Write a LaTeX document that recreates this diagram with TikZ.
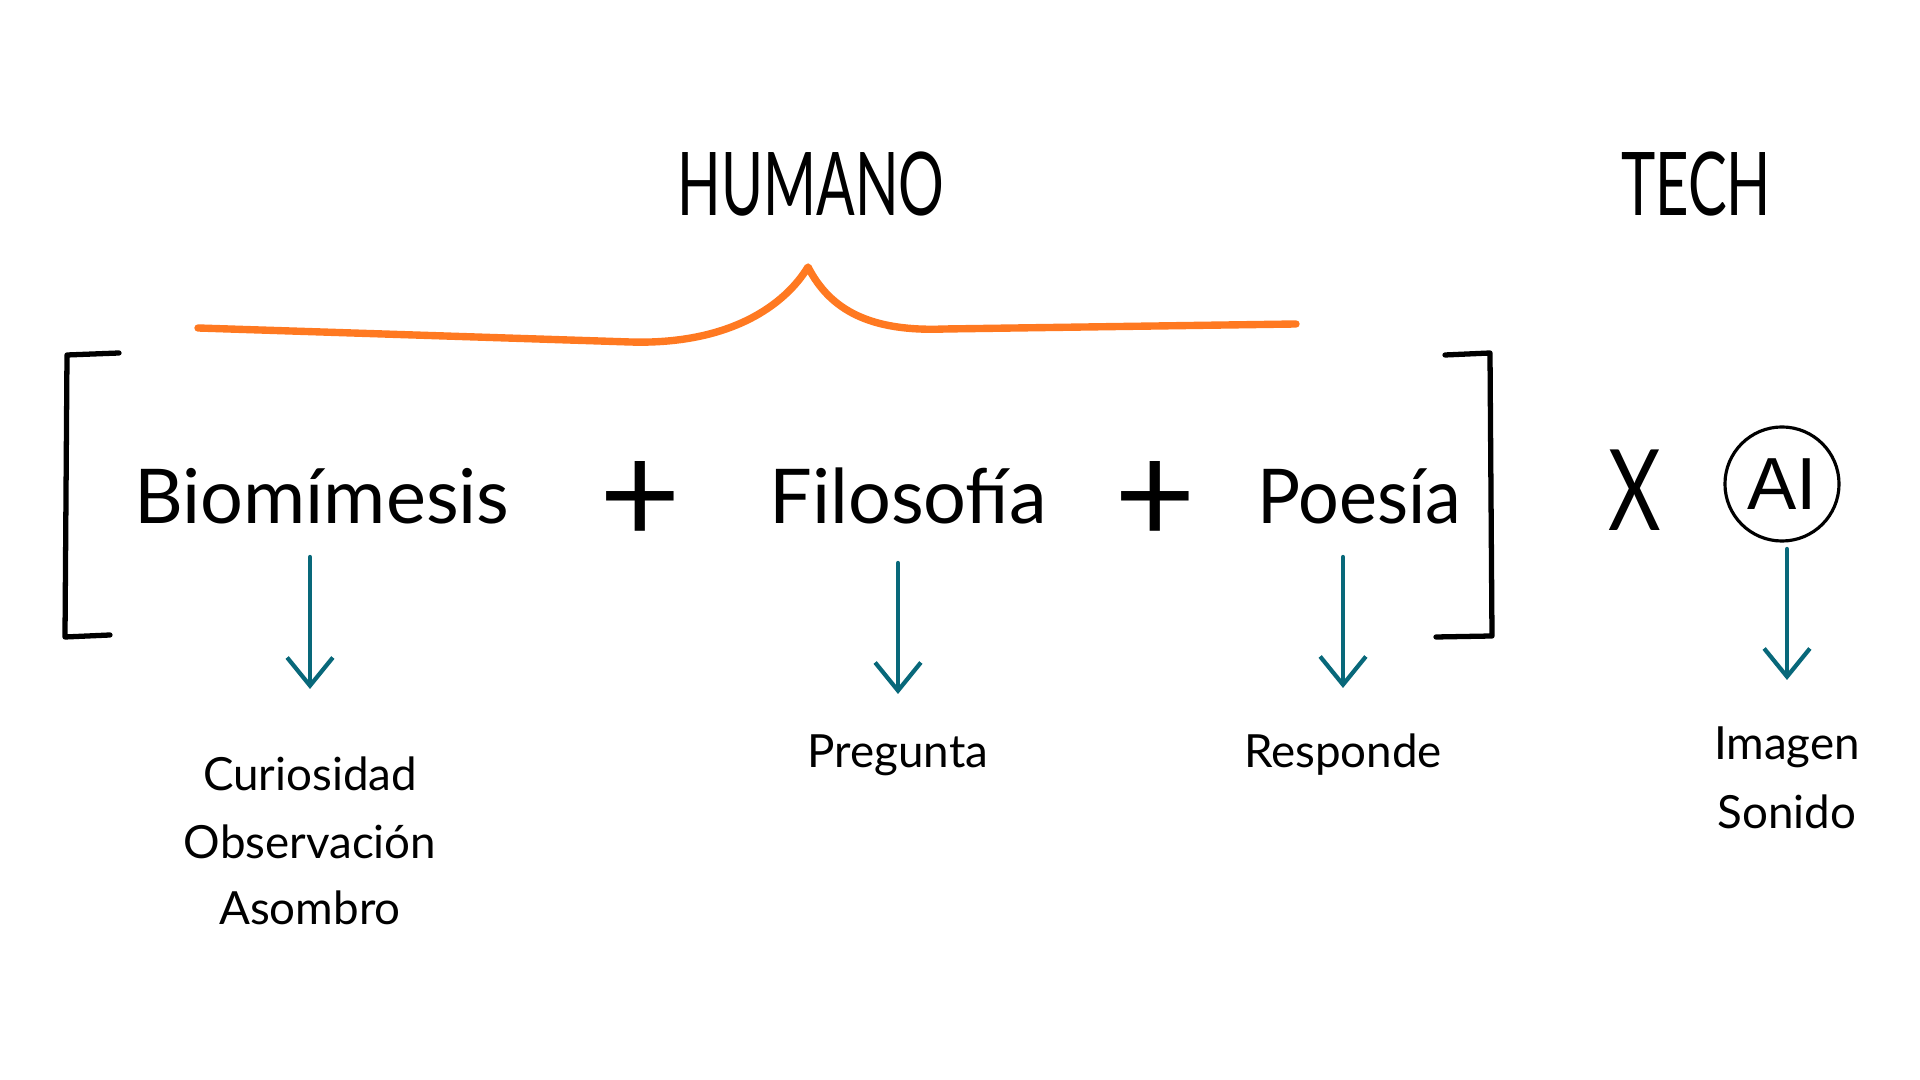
\documentclass[tikz,border=0pt]{standalone}
\usepackage{fontspec}
\setmainfont{Lato}
\newfontfamily\aifont{Liberation Sans}
\usetikzlibrary{arrows.meta}
\definecolor{braceorange}{RGB}{255,121,33}
\definecolor{arrteal}{RGB}{8,104,122}
\tikzset{
  word/.style={font=\fontsize{21.5}{26}\selectfont, inner sep=0pt},
  label/.style={font=\fontsize{13}{16}\selectfont, inner sep=0pt},
  title/.style={font=\fontsize{25}{30}\selectfont, inner sep=0pt},
  plussign/.style={font=\fontsize{40}{44}\selectfont, inner sep=0pt},
  arr/.style={draw=arrteal, line width=1.2pt, line cap=round, -{Straight Barb[length=8pt,width=13pt,line width=1.2pt]}},
  bracket/.style={draw=black, line width=1.5pt, line cap=round, line join=round},
}
\begin{document}
\begin{tikzpicture}[x=0.01cm, y=-0.01cm]
\useasboundingbox[fill=white] (0,0) rectangle (1920,1080);
% titles
\node[title] (humano) at (811,184) {\scalebox{0.65}[1]{HUMANO}};
\node[title] (tech) at (1696,184) {\scalebox{0.66}[1]{TECH}};
% brace
\draw[braceorange, line width=2.1pt, line cap=round, line join=round]
  (198,328) -- (630,342) .. controls (730,345) and (785,305) .. (808,267)
  .. controls (830,310) and (870,332) .. (945,329) -- (1296,324);
% brackets
\draw[bracket] (119,353) -- (67,355) -- (65,637) -- (110,635);
\draw[bracket] (1445,355) -- (1490,353) -- (1492,636) -- (1436,637);
% words
\node[word] (bio) at (322,496) {Biomímesis};
\node[plussign] (p1) at (640,503) {+};
\node[word] (filo) at (908,496) {Filosofía};
\node[plussign] (p2) at (1155,503) {+};
\node[word] (poe) at (1359,496) {\scalebox{0.95}[1]{Poesía}};
\node[font=\fontsize{32}{36}\selectfont, inner sep=0pt] (times) at (1635,490) {\scalebox{0.72}[1]{X}};
\node[draw=black, line width=0.9pt, circle, minimum size=114*0.2845pt, inner sep=0pt,
      font=\aifont\fontsize{21}{26}\selectfont] (ai) at (1782,484) {AI};
% labels
\node[label] (cur) at (310,774) {Curiosidad};
\node[label] (obs) at (310,842) {Observación};
\node[label] (aso) at (310,908) {Asombro};
\node[label] (pre) at (898,755) {Pregunta};
\node[label] (res) at (1343,755) {Responde};
\node[label] (ima) at (1787,747) {Imagen};
\node[label] (son) at (1787,812) {Sonido};
% arrow end points
\coordinate (a1s) at (310,557); \coordinate (a1e) at (310,689);
\coordinate (a2s) at (898,563); \coordinate (a2e) at (898,694);
\coordinate (a3s) at (1343,557); \coordinate (a3e) at (1343,688);
\coordinate (a4s) at (1787,549); \coordinate (a4e) at (1787,680);
\draw[arr] (a1s) -- (a1e);
\draw[arr] (a2s) -- (a2e);
\draw[arr] (a3s) -- (a3e);
\draw[arr] (a4s) -- (a4e);
\end{tikzpicture}
\end{document}
